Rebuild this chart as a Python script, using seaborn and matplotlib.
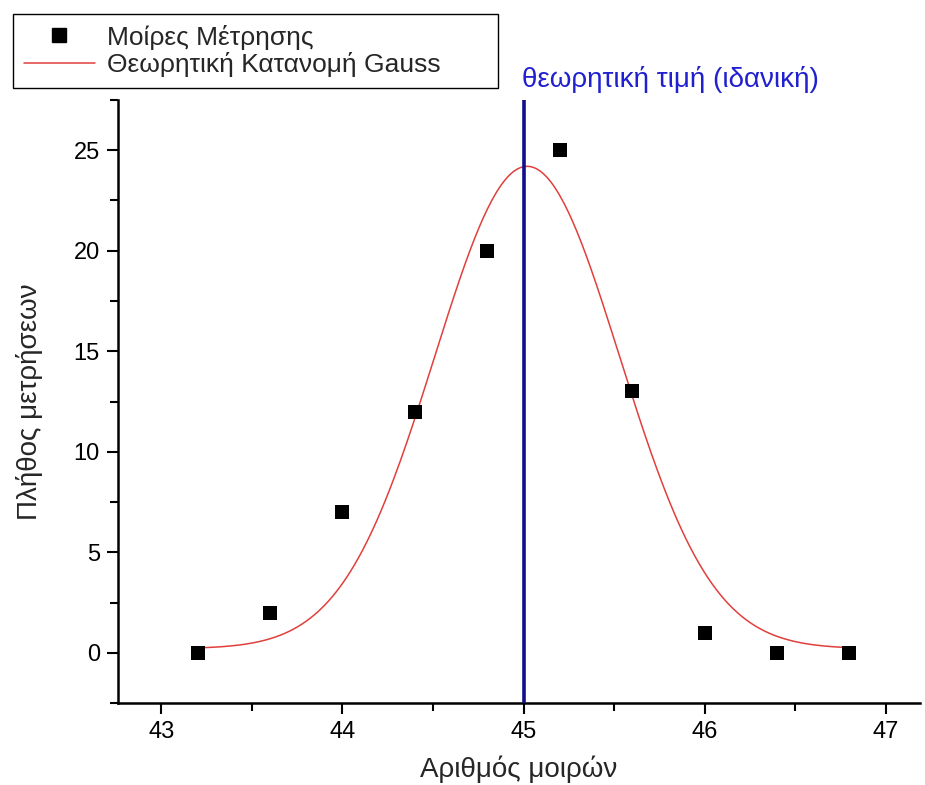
import numpy as np
import pandas as pd
import matplotlib
matplotlib.use("Agg")
import matplotlib.pyplot as plt
import seaborn as sns
from matplotlib.ticker import AutoMinorLocator
from matplotlib.lines import Line2D
import matplotlib.transforms as mtransforms

# ---- data ----
degrees = [43.2, 43.6, 44.0, 44.4, 44.8, 45.2, 45.6, 46.0, 46.4, 46.8]
counts = [0, 2, 7, 12, 20, 25, 13, 1, 0, 0]

# Gauss fit parameters
gauss_y0 = 0.2
gauss_amp = 24.0
gauss_center = 45.02
gauss_sigma = 0.51
curve_range = [43.2, 46.8]

theory_value = 45.0

x_label = "Αριθμός μοιρών"
y_label = "Πλήθος μετρήσεων"
series_points = "Μοίρες Μέτρησης"
series_curve = "Θεωρητική Κατανομή Gauss"
theory_label = "θεωρητική τιμή (ιδανική)"

x_ticks = [43, 44, 45, 46, 47]
y_ticks = [0, 5, 10, 15, 20, 25]

# ---- styling ----
sns.set_style("ticks")
plt.rcParams["font.family"] = ["Liberation Sans", "DejaVu Sans"]

fig = plt.figure(figsize=(9.25, 7.85), dpi=100)
ax = fig.add_axes([118 / 925, 1 - 703 / 785, 1 - 118 / 925 - 5 / 925, (703 - 100) / 785])

pts = pd.DataFrame({"x": degrees, "y": counts})
xc = np.linspace(curve_range[0], curve_range[1], 300)
yc = gauss_y0 + gauss_amp * np.exp(-((xc - gauss_center) ** 2) / (2 * gauss_sigma ** 2))
curve = pd.DataFrame({"x": xc, "y": yc})

sns.lineplot(data=curve, x="x", y="y", ax=ax, color="#e0403c", linewidth=1.1, zorder=2)
ax.axvline(theory_value, color="#10108c", linewidth=2.6, zorder=3)
sns.scatterplot(data=pts, x="x", y="y", ax=ax, marker="s", s=110, color="black",
                edgecolor="black", linewidth=0, zorder=4)

ax.set_xlim(42.76, 47.19)
ax.set_ylim(-2.5, 27.5)
ax.set_xticks(x_ticks)
ax.set_yticks(y_ticks)
ax.xaxis.set_minor_locator(AutoMinorLocator(2))
ax.yaxis.set_minor_locator(AutoMinorLocator(2))

for s in ["top", "right"]:
    ax.spines[s].set_visible(False)
for s in ["left", "bottom"]:
    ax.spines[s].set_linewidth(1.8)
    ax.spines[s].set_color("black")

ax.tick_params(axis="both", which="major", direction="out", length=8, width=1.5,
               labelsize=17, color="black", labelcolor="black", pad=5)
ax.tick_params(axis="both", which="minor", direction="out", length=6, width=1.5, color="black")

ax.set_xlabel(x_label, fontsize=20, labelpad=9)
ax.set_ylabel(y_label, fontsize=20, labelpad=22)

trans = mtransforms.blended_transform_factory(ax.transData, ax.transAxes)
ax.text(theory_value - 0.01, 1.012, theory_label, transform=trans, ha="left", va="bottom",
        color="#2020d0", fontsize=20)

handles = [
    Line2D([], [], marker="s", linestyle="none", color="black", markersize=10),
    Line2D([], [], color="#e0403c", linewidth=1.1),
]
leg = fig.legend(handles, [series_points, series_curve], loc="upper left",
                 bbox_to_anchor=(13 / 925, 1 - 90 / 785, 485 / 925, 76 / 785),
                 mode="expand", borderaxespad=0,
                 fontsize=19, frameon=True, fancybox=False, framealpha=1,
                 edgecolor="black", handlelength=2.7, handletextpad=0.45,
                 borderpad=0.4, labelspacing=0.1)
leg.get_frame().set_linewidth(1.0)

fig.savefig("out.png", dpi=100)
